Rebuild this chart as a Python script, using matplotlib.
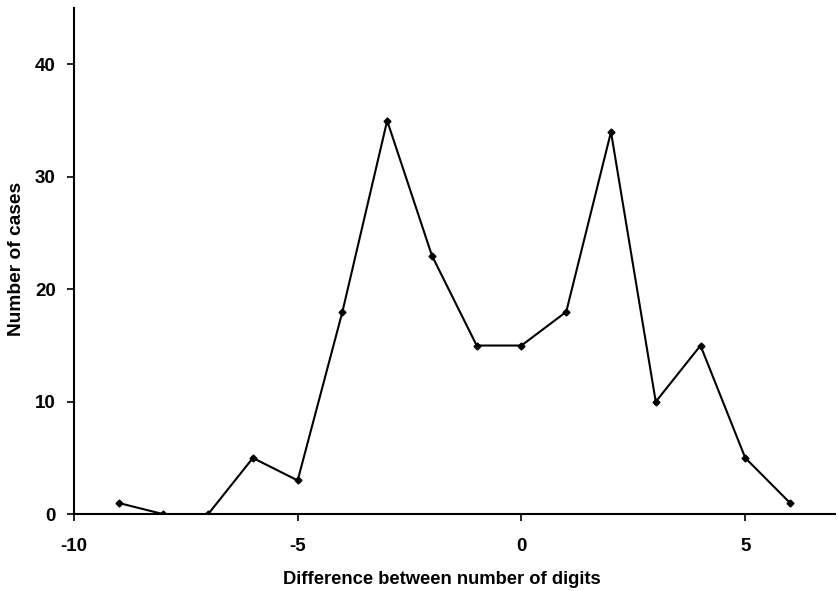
import matplotlib
matplotlib.use("Agg")
import matplotlib.pyplot as plt

# difference in digit count vs. number of cases
diff = [-9, -8, -7, -6, -5, -4, -3, -2, -1, 0, 1, 2, 3, 4, 5, 6]
cases = [1, 0, 0, 5, 3, 18, 35, 23, 15, 15, 18, 34, 10, 15, 5, 1]

x_ticks = [-10, -5, 0, 5]
y_ticks = [0, 10, 20, 30, 40]

plt.rcParams["font.family"] = ["Liberation Sans", "DejaVu Sans"]
plt.rcParams["font.weight"] = "bold"
plt.rcParams["axes.unicode_minus"] = False

fig = plt.figure(figsize=(8.39, 5.91), dpi=100)
ax = fig.add_axes([0.088, 0.130, 0.907, 0.856])

ax.plot(diff, cases, color="black", linewidth=1.5,
        marker="D", markersize=3.5, markerfacecolor="black")

ax.set_xlim(-10, 7)
ax.set_ylim(0, 45)
ax.set_xticks(x_ticks)
ax.set_yticks(y_ticks)

for side in ["top", "right"]:
    ax.spines[side].set_visible(False)
for side in ["left", "bottom"]:
    ax.spines[side].set_linewidth(1.5)

ax.tick_params(axis="x", direction="out", length=5, width=1.2, pad=12, labelsize=13.5)
ax.tick_params(axis="y", direction="out", length=5, width=1.2, pad=8, labelsize=13.5)

ax.set_xlabel("Difference between number of digits", fontsize=13.2,
              fontweight="bold")
ax.xaxis.set_label_coords(0.483, -0.112)
ax.set_ylabel("Number of cases", fontsize=13.8, fontweight="bold")
ax.yaxis.set_label_coords(-0.064, 0.505)

fig.savefig("out.png", dpi=100)
